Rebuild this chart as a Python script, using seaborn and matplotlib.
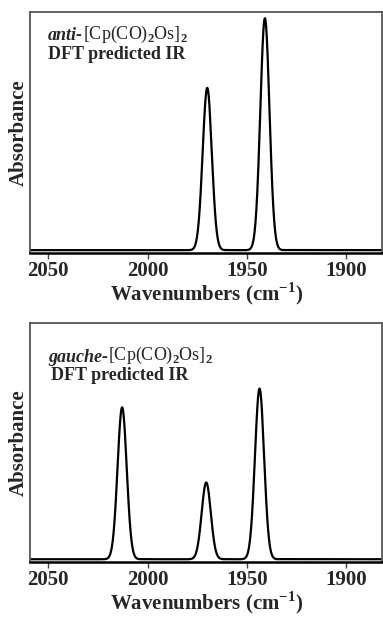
import numpy as np
import matplotlib
matplotlib.use('Agg')
import matplotlib.pyplot as plt
import seaborn as sns

# DFT predicted band positions (cm-1) and relative intensities
anti_pos = [1970.0, 1941.0]
anti_int = [0.70, 1.00]
gauche_pos = [2012.8, 1970.5, 1943.7]
gauche_int = [0.89, 0.45, 1.00]

wn = np.linspace(2060, 1880, 2000)
sigma = 2.3  # gaussian width of the simulated bands

sns.set_theme(style='white')
plt.rcParams['font.family'] = ['Liberation Serif', 'DejaVu Serif']
plt.rcParams['mathtext.fontset'] = 'custom'
plt.rcParams['mathtext.rm'] = 'Liberation Serif:bold'
plt.rcParams['mathtext.bf'] = 'Liberation Serif:bold'


def spectrum(pos, inten):
    y = np.zeros_like(wn)
    for p, a in zip(pos, inten):
        y += a * np.exp(-0.5 * ((wn - p) / sigma) ** 2)
    return y


def panel(ax, pos, inten, name, ytop, y1, y2, x2):
    sns.lineplot(x=wn, y=spectrum(pos, inten), ax=ax, color='black', lw=1.6)
    ax.set_xlim(2059, 1882)
    ax.set_ylim(-0.012 * ytop, ytop)
    ax.set_xticks([2050, 2000, 1950, 1900])
    ax.set_yticks([])
    ax.tick_params(axis='x', bottom=True, length=4, width=1, color='#444444',
                   pad=2, labelsize=15)
    for lab in ax.get_xticklabels():
        lab.set_fontweight('bold')
    for s in ['left', 'top', 'right']:
        ax.spines[s].set_color('#555555')
        ax.spines[s].set_linewidth(1.3)
    ax.spines['bottom'].set_color('black')
    ax.spines['bottom'].set_linewidth(1.8)
    ax.set_xlabel('Wavenumbers (cm$^{-1}$)', fontsize=15, fontweight='bold', labelpad=-1)
    ax.set_ylabel('Absorbance', fontsize=15, fontweight='bold', labelpad=1)
    t1 = ax.text(0.05, y1, name + '-', transform=ax.transAxes, fontsize=13,
                 fontweight='bold', fontstyle='italic', va='baseline')
    ax.annotate('[Cp(CO)$_2$Os]$_2$', xy=(1, 0), xycoords=t1, fontsize=13,
                va='bottom', ha='left', textcoords='offset points', xytext=(0, -0.5))
    ax.text(x2, y2, 'DFT predicted IR', transform=ax.transAxes, fontsize=13,
            fontweight='bold', va='baseline')


fig = plt.figure(figsize=(3.83, 6.18), dpi=100)
ax1 = fig.add_axes([0.079, 0.5906, 0.919, 0.39])
ax2 = fig.add_axes([0.079, 0.0905, 0.919, 0.387])

panel(ax1, anti_pos, anti_int, 'anti', 1.027, 0.882, 0.806, 0.05)
panel(ax2, gauche_pos, gauche_int, 'gauche', 1.385, 0.838, 0.762, 0.06)

fig.savefig('out.png', dpi=100)
